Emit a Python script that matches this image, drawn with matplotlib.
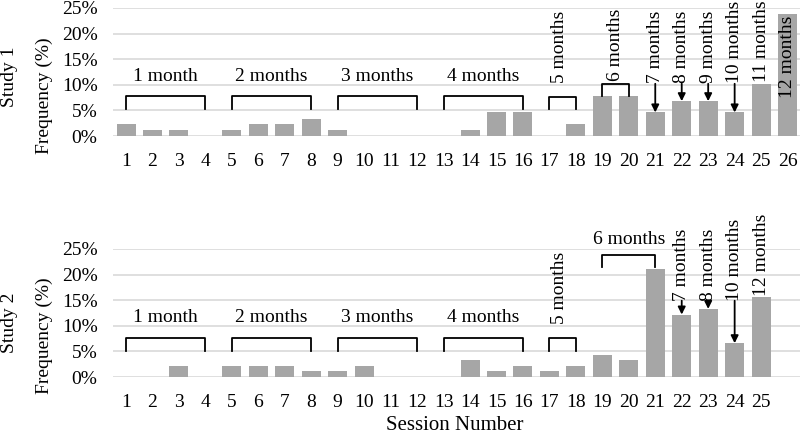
import matplotlib
matplotlib.use("Agg")
import matplotlib.pyplot as plt

# ---- data (frequency in %) ----
sessions_1 = list(range(1, 27))
freq_1 = [2.3, 1.2, 1.2, 0.0, 1.2, 2.3, 2.3, 3.4, 1.2, 0.0, 0.0, 0.0, 0.0,
          1.2, 4.6, 4.6, 0.0, 2.3, 7.9, 7.9, 4.6, 6.8, 6.8, 4.6, 10.2, 23.9]

sessions_2 = list(range(1, 26))
freq_2 = [0.0, 0.0, 2.2, 0.0, 2.2, 2.2, 2.2, 1.1, 1.1, 2.2, 0.0, 0.0, 0.0,
          3.3, 1.1, 2.2, 1.1, 2.2, 4.3, 3.3, 21.0, 12.2, 13.3, 6.6, 15.6]

yticks = [0, 5, 10, 15, 20, 25]
ytick_labels = ["0%", "5%", "10%", "15%", "20%", "25%"]

FONT = "Liberation Serif"
FS = 14
BAR = "#a6a6a6"
GRID = "#d9d9d9"

plt.rcParams["font.family"] = [FONT, "DejaVu Serif"]

fig = plt.figure(figsize=(8.0, 4.34), dpi=100)
ax1 = fig.add_axes([0.141, 0.6866, 0.86, 0.295])
ax2 = fig.add_axes([0.141, 0.1313, 0.86, 0.295])


def setup(ax, sessions, freq):
    ax.bar(sessions, freq, width=0.72, color=BAR, zorder=2)
    ax.set_xlim(0.5, 26.5)
    ax.set_ylim(0, 25)
    ax.set_yticks(yticks)
    ax.set_yticklabels(ytick_labels, fontsize=FS)
    ax.set_xticks(sessions)
    ax.set_xticklabels([str(s) for s in sessions], fontsize=FS)
    ax.tick_params(length=0, axis="y", pad=11)
    ax.tick_params(length=0, axis="x", pad=12)
    for sp in ax.spines.values():
        sp.set_visible(False)
    ax.yaxis.grid(True, color=GRID, lw=1.2, zorder=0)
    ax.set_axisbelow(True)


def bracket(ax, x0, x1, y_end, y_top):
    ax.plot([x0, x0, x1, x1], [y_end, y_top, y_top, y_end], color="black",
            lw=1.3, solid_joinstyle="round", clip_on=False, zorder=3)


def hlabel(ax, x, y, s):
    ax.text(x, y, s, ha="center", va="center", fontsize=FS, clip_on=False)


def vlabel(ax, x, y, s):
    ax.text(x, y, s, ha="center", va="bottom", rotation=90, fontsize=FS,
            clip_on=False, zorder=4)


def arrow(ax, x, y_from, y_to):
    ax.annotate("", xy=(x, y_to), xytext=(x, y_from),
                arrowprops=dict(arrowstyle="-|>", color="black", lw=1.3,
                                mutation_scale=11, shrinkA=0, shrinkB=0))


setup(ax1, sessions_1, freq_1)
setup(ax2, sessions_2, freq_2)

# Study 1 annotations
for lbl, a, b in [("1 month", 1, 4), ("2 months", 5, 8), ("3 months", 9, 12), ("4 months", 13, 16)]:
    bracket(ax1, a, b, 5.2, 7.8)
    hlabel(ax1, (a + b) / 2, 11.7, lbl)
bracket(ax1, 17, 18, 5.3, 7.6)
vlabel(ax1, 17.4, 10.3, "5 months")
bracket(ax1, 19, 20, 7.9, 10.2)
vlabel(ax1, 19.5, 10.7, "6 months")
for s, lbl in [(21, "7 months"), (22, "8 months"), (23, "9 months"), (24, "10 months")]:
    vlabel(ax1, s, 10.3, lbl)
    arrow(ax1, s, 10.2, freq_1[s - 1])
vlabel(ax1, 25, 10.5, "11 months")
vlabel(ax1, 26, 7.4, "12 months")

# Study 2 annotations
for lbl, a, b in [("1 month", 1, 4), ("2 months", 5, 8), ("3 months", 9, 12), ("4 months", 13, 16)]:
    bracket(ax2, a, b, 5.0, 7.7)
    hlabel(ax2, (a + b) / 2, 11.7, lbl)
bracket(ax2, 17, 18, 5.0, 7.7)
vlabel(ax2, 17.4, 10.3, "5 months")
bracket(ax2, 19, 21, 21.5, 23.8)
hlabel(ax2, 20.0, 26.8, "6 months")
for s, lbl in [(22, "7 months"), (23, "8 months"), (24, "10 months")]:
    vlabel(ax2, s, 14.9, lbl)
    arrow(ax2, s, 14.9, freq_2[s - 1])
vlabel(ax2, 25, 15.8, "12 months")

# axis titles
fig.text(0.055, 0.779, "Frequency (%)", rotation=90, ha="center", va="center", fontsize=FS)
fig.text(0.012, 0.823, "Study 1", rotation=90, ha="center", va="center", fontsize=FS)
fig.text(0.055, 0.226, "Frequency (%)", rotation=90, ha="center", va="center", fontsize=FS)
fig.text(0.012, 0.256, "Study 2", rotation=90, ha="center", va="center", fontsize=FS)
fig.text(0.569, 0.019, "Session Number", ha="center", va="center", fontsize=FS + 1)

fig.savefig("out.png", dpi=100)
